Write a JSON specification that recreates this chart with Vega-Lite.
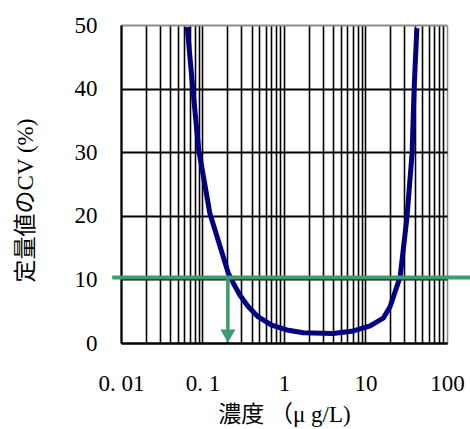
{
  "$schema": "https://vega.github.io/schema/vega-lite/v6.json",
  "width": 326,
  "height": 318,
  "autosize": {"type": "none"},
  "padding": {"left": 121, "top": 25, "right": 23, "bottom": 86},
  "background": "white",
  "config": {"view": {"stroke": null}},
  "datasets": {
    "curve": [
      {"x": 0.065, "y": 49.7},
      {"x": 0.076, "y": 40},
      {"x": 0.09, "y": 30.3},
      {"x": 0.1, "y": 27},
      {"x": 0.123, "y": 20.4},
      {"x": 0.207, "y": 11.0},
      {"x": 0.239, "y": 9.4},
      {"x": 0.288, "y": 7.5},
      {"x": 0.365, "y": 5.7},
      {"x": 0.484, "y": 4.1},
      {"x": 0.706, "y": 2.8},
      {"x": 1.13, "y": 2.0},
      {"x": 1.73, "y": 1.6},
      {"x": 4.0, "y": 1.5},
      {"x": 7.1, "y": 1.9},
      {"x": 11.4, "y": 2.7},
      {"x": 16.5, "y": 3.9},
      {"x": 20, "y": 5.7},
      {"x": 26.6, "y": 10.4},
      {"x": 32.3, "y": 19.8},
      {"x": 37.3, "y": 29.9},
      {"x": 39.5, "y": 40},
      {"x": 42.7, "y": 49.5}
    ],
    "hline": [{"x": 0.0078, "x2": 192, "y": 10.3}],
    "vline": [{"x": 0.205, "y": 10.3, "y2": 2}],
    "head": [{"x": 0.205, "y": 1.1}]
  },
  "encoding": {
    "x": {
      "field": "x",
      "type": "quantitative",
      "scale": {"type": "log", "domain": [0.01, 100], "nice": false},
      "axis": {
        "values": [0.01,0.02,0.03,0.04,0.05,0.06,0.07,0.08,0.09,0.1,0.2,0.3,0.4,0.5,0.6,0.7,0.8,0.9,1,2,3,4,5,6,7,8,9,10,20,30,40,50,60,70,80,90,100],
        "labelExpr": "datum.value == 0.01 ? '0. 01' : datum.value == 0.1 ? '0. 1' : datum.value == 1 ? '1' : datum.value == 10 ? '10' : datum.value == 100 ? '100' : ''",
        "grid": true,
        "gridColor": {"condition": {"test": "datum.value == 100", "value": "#8c8c8c"}, "value": "#000000"},
        "gridWidth": 1.6,
        "gridOpacity": 1,
        "ticks": false,
        "domainColor": "#000000",
        "domainWidth": 2,
        "labelFont": "Liberation Serif",
        "labelFontSize": 23,
        "labelColor": "#000000",
        "labelPadding": 40,
        "labelBaseline": "middle",
        "labelOverlap": false,
        "labelFlush": false,
        "title": "濃度 （μ g/L)",
        "titleFont": "Liberation Serif, Noto Sans CJK JP",
        "titleFontSize": 23,
        "titleFontWeight": "normal",
        "titleColor": "#000000",
        "titleX": 163,
        "titleY": 71,
        "titleAlign": "center",
        "titleBaseline": "middle"
      }
    },
    "y": {
      "field": "y",
      "type": "quantitative",
      "scale": {"domain": [0, 50], "nice": false},
      "axis": {
        "values": [0, 10, 20, 30, 40, 50],
        "grid": true,
        "gridColor": {"condition": {"test": "datum.value == 50", "value": "#8c8c8c"}, "value": "#000000"},
        "gridWidth": 2,
        "gridOpacity": 1,
        "ticks": false,
        "domainColor": "#000000",
        "domainWidth": 2,
        "labelFont": "Liberation Serif",
        "labelFontSize": 23,
        "labelColor": "#000000",
        "labelPadding": 24,
        "labelBaseline": "middle",
        "title": "定量値のCV (%)",
        "titleFont": "Liberation Serif, Noto Sans CJK JP",
        "titleFontSize": 23,
        "titleFontWeight": "normal",
        "titleColor": "#000000",
        "titleX": -96,
        "titleY": 175,
        "titleAngle": -90,
        "titleAlign": "center",
        "titleBaseline": "middle"
      }
    }
  },
  "layer": [
    {
      "data": {"name": "curve"},
      "mark": {"type": "line", "color": "#000080", "strokeWidth": 5, "strokeCap": "butt", "strokeJoin": "round"}
    },
    {
      "data": {"name": "hline"},
      "mark": {"type": "rule", "color": "#3d9b6c", "strokeWidth": 4},
      "encoding": {"x2": {"field": "x2"}}
    },
    {
      "data": {"name": "vline"},
      "mark": {"type": "rule", "color": "#3d9b6c", "strokeWidth": 3.5},
      "encoding": {"y2": {"field": "y2"}}
    },
    {
      "data": {"name": "head"},
      "mark": {"type": "point", "shape": "triangle-down", "size": 230, "filled": true, "color": "#3d9b6c", "opacity": 1, "strokeWidth": 0}
    }
  ]
}
